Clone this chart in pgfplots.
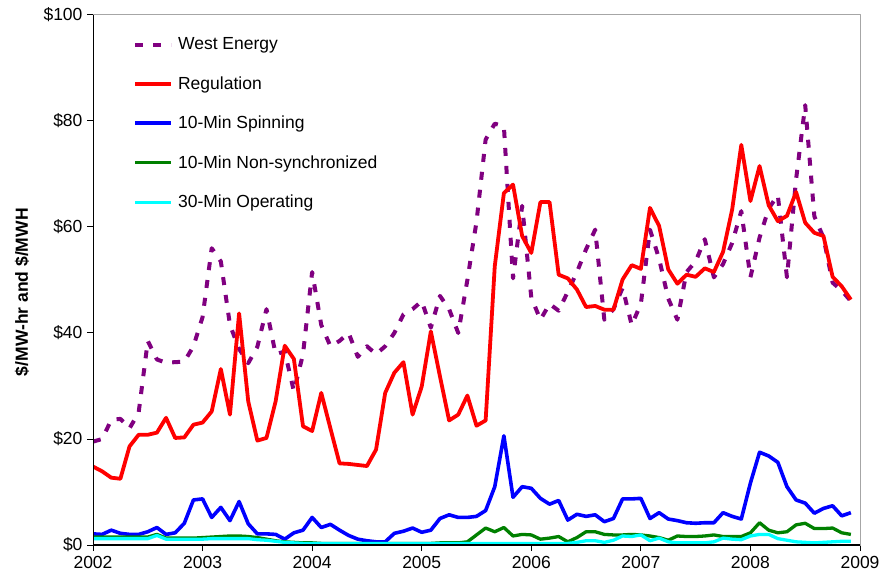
\documentclass[border=0pt]{standalone}
\usepackage{fontspec}
\setmainfont{Liberation Sans}
\usepackage{pgfplots}
\usepackage{pgfplotstable}
\pgfplotsset{compat=1.18}
\definecolor{wePurple}{RGB}{128,0,128}
\definecolor{regRed}{RGB}{255,0,0}
\definecolor{spinBlue}{RGB}{0,0,255}
\definecolor{nsGreen}{RGB}{0,128,0}
\definecolor{opCyan}{RGB}{0,255,255}
\pgfplotstableread{
m we reg spin ns op
0 19.5 14.8 2.1 1.5 1.2
1 20.0 13.9 2.0 1.5 1.2
2 23.6 12.7 2.8 1.5 1.2
3 23.8 12.5 2.2 1.5 1.2
4 22.0 18.6 2.0 1.5 1.2
5 25.0 20.8 2.0 1.5 1.2
6 38.5 20.8 2.5 1.5 1.2
7 35.0 21.2 3.3 2.0 1.8
8 34.4 24.0 2.0 1.3 1.1
9 34.5 20.2 2.3 1.3 1.1
10 34.6 20.3 4.1 1.3 1.1
11 37.5 22.7 8.5 1.3 1.1
12 43.0 23.1 8.7 1.4 1.1
13 56.0 25.2 5.2 1.5 1.2
14 53.5 33.2 7.1 1.6 1.2
15 41.5 24.6 4.6 1.7 1.2
16 37.0 43.7 8.2 1.7 1.2
17 34.3 27.1 4.0 1.6 1.2
18 37.4 19.7 2.1 1.4 1.0
19 44.5 20.2 2.1 1.1 0.9
20 36.0 27.1 2.0 0.8 0.7
21 36.5 37.6 1.1 0.6 0.5
22 29.0 35.1 2.3 0.5 0.4
23 36.0 22.4 2.8 0.4 0.3
24 51.5 21.5 5.2 0.4 0.3
25 41.5 28.7 3.3 0.3 0.3
26 37.5 22.0 3.9 0.3 0.3
27 38.5 15.4 2.8 0.3 0.3
28 40.0 15.3 1.8 0.3 0.3
29 35.5 15.1 1.1 0.3 0.3
30 37.5 14.9 0.8 0.3 0.3
31 36.0 18.0 0.6 0.3 0.3
32 37.5 28.7 0.6 0.3 0.3
33 40.0 32.5 2.2 0.3 0.3
34 43.5 34.5 2.6 0.3 0.3
35 44.5 24.6 3.2 0.3 0.3
36 46.0 29.9 2.4 0.3 0.3
37 41.0 40.3 2.8 0.3 0.3
38 47.0 31.8 5.0 0.4 0.3
39 44.5 23.5 5.7 0.4 0.3
40 40.0 24.6 5.2 0.4 0.3
41 50.0 28.2 5.2 0.6 0.3
42 61.0 22.5 5.4 1.9 0.3
43 76.5 23.5 6.5 3.2 0.3
44 79.5 52.6 11.0 2.5 0.3
45 79.0 66.4 20.6 3.3 0.3
46 50.3 68.0 9.0 1.7 0.3
47 64.0 58.3 11.0 2.0 0.3
48 46.7 55.1 10.7 1.9 0.3
49 42.5 64.7 8.8 1.1 0.3
50 45.5 64.7 7.7 1.3 0.3
51 44.2 51.0 8.4 1.6 0.3
52 47.8 50.3 4.7 0.6 0.3
53 51.5 48.2 5.8 1.4 0.5
54 55.8 44.9 5.4 2.5 0.8
55 59.5 45.1 5.7 2.5 0.8
56 42.5 44.4 4.4 2.0 0.5
57 44.5 44.4 5.0 1.9 0.9
58 48.5 50.1 8.7 1.9 1.7
59 41.5 52.8 8.7 2.0 1.6
60 45.5 52.1 8.8 1.9 1.9
61 59.5 63.6 5.0 1.7 0.8
62 54.0 60.2 6.1 1.4 1.3
63 46.5 52.0 4.9 0.9 0.6
64 42.5 49.3 4.6 1.7 0.4
65 51.5 51.0 4.2 1.6 0.4
66 53.5 50.6 4.1 1.6 0.4
67 57.7 52.2 4.2 1.7 0.4
68 50.5 51.5 4.2 1.9 0.6
69 53.0 55.3 6.1 1.6 1.3
70 57.0 63.3 5.4 1.6 1.1
71 63.0 75.5 4.9 1.6 1.0
72 50.5 64.9 11.7 2.3 1.7
73 58.0 71.5 17.5 4.2 2.0
74 63.5 64.1 16.8 2.8 2.0
75 66.0 61.1 15.6 2.3 1.2
76 50.5 62.1 11.0 2.5 0.9
77 69.0 66.6 8.5 3.8 0.6
78 83.0 60.8 7.9 4.1 0.5
79 62.0 58.9 6.0 3.1 0.4
80 58.0 58.3 6.9 3.1 0.5
81 49.5 50.6 7.4 3.2 0.6
82 48.0 48.8 5.5 2.3 0.7
83 46.0 46.3 6.1 2.0 0.7
}\datatable
\begin{document}
\begin{tikzpicture}
\useasboundingbox (0,0) rectangle (882pt,586pt);
\begin{axis}[
  at={(93pt,41pt)}, anchor=south west,
  scale only axis, width=767pt, height=530pt,
  xmin=0, xmax=84, ymin=0, ymax=100,
  xtick={0,12,...,84},
  xticklabels={2002,2003,2004,2005,2006,2007,2008,2009},
  ytick={0,20,...,100},
  yticklabels={\$0,\$20,\$40,\$60,\$80,\$100},
  tick pos=left, tick align=outside, major tick length=6pt,
  tick style={black, line width=1pt},
  axis line style={draw=gray!70, line width=1pt},
  ticklabel style={font=\fontsize{17.5}{21}\selectfont},
  yticklabel style={xshift=-1pt},
  xticklabel style={yshift=-2pt},
  ylabel={\$/MW-hr and \$/MWH},
  ylabel style={font=\fontsize{17.5}{21}\selectfont\bfseries, at={(axis description cs:-0.0926,0.477)}, anchor=center},
  line join=round,
  legend cell align=left,
  legend image code/.code={\draw[#1] (0pt,0pt) -- (36pt,0pt);},
  legend style={draw=none, fill=none, at={(axis description cs:0.052,0.961)}, anchor=north west,
    font=\fontsize{17.5}{21}\selectfont, row sep=21.3pt, column sep=3pt, inner sep=0pt},
]
\addplot[wePurple, line width=4pt, dash pattern=on 8pt off 10pt] table[x=m, y=we] {\datatable};
\addlegendentry{West Energy}
\addplot[regRed, line width=3.8pt] table[x=m, y=reg] {\datatable};
\addlegendentry{Regulation}
\addplot[spinBlue, line width=3.6pt] table[x=m, y=spin] {\datatable};
\addlegendentry{10-Min Spinning}
\addplot[nsGreen, line width=3.3pt] table[x=m, y=ns] {\datatable};
\addlegendentry{10-Min Non-synchronized}
\addplot[opCyan, line width=3.3pt] table[x=m, y=op] {\datatable};
\addlegendentry{30-Min Operating}
\draw[black, line width=1.3pt] (rel axis cs:0,1) -- (rel axis cs:0,0) -- (rel axis cs:1,0);
\end{axis}
\end{tikzpicture}
\end{document}
